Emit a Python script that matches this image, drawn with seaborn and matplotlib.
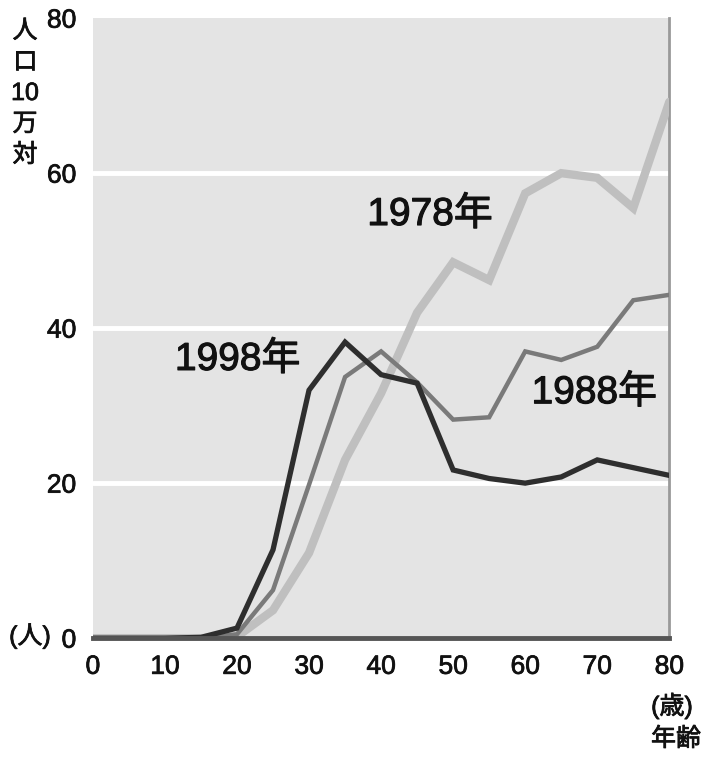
import matplotlib
matplotlib.use("Agg")
import matplotlib.pyplot as plt
import matplotlib.patheffects as pe
import seaborn as sns
import pandas as pd

ages = [0, 5, 10, 15, 20, 25, 30, 35, 40, 45, 50, 55, 60, 65, 70, 75, 80]
rate_1978 = [0, 0, 0, 0, 0.2, 3.6, 11.0, 23.0, 31.6, 42.0, 48.5, 46.2, 57.4, 60.0, 59.4, 55.5, 69.2]
rate_1988 = [0, 0, 0, 0, 0.5, 6.2, 19.8, 33.7, 37.0, 33.0, 28.2, 28.5, 37.0, 35.9, 37.6, 43.6, 44.3]
rate_1998 = [0, 0, 0, 0.1, 1.3, 11.4, 32.0, 38.2, 34.0, 32.9, 21.7, 20.6, 20.0, 20.8, 23.0, 22.0, 21.0]
series_names = ["1978年", "1988年", "1998年"]
x_ticks = [0, 10, 20, 30, 40, 50, 60, 70, 80]
y_ticks = [0, 20, 40, 60, 80]

df = pd.concat([
    pd.DataFrame({"age": ages, "rate": vals, "year": name})
    for name, vals in zip(series_names, [rate_1978, rate_1988, rate_1998])
])

sns.set_style("white")
plt.rcParams["font.family"] = ["Liberation Sans", "Noto Sans CJK JP", "DejaVu Sans"]

thick = [pe.withStroke(linewidth=0.55, foreground="#111111")]

fig = plt.figure(figsize=(7.09, 7.57), dpi=100)
ax = fig.add_axes([0.131, 0.157, 0.813, 0.819])
ax.set_facecolor("#e4e4e4")

palette = {"1978年": "#bfbfbf", "1988年": "#7a7a7a", "1998年": "#2e2e2e"}
widths = {"1978年": 6.0, "1988年": 3.2, "1998年": 3.8}
for name in series_names:
    sns.lineplot(data=df[df["year"] == name], x="age", y="rate", color=palette[name],
                 linewidth=widths[name], ax=ax, legend=False, zorder=3,
                 solid_joinstyle="miter")

for y in [20, 40, 60]:
    ax.axhline(y, color="white", linewidth=3.5, zorder=1)

ax.set_xlim(0, 80)
ax.set_ylim(0, 80)
ax.set_xticks(x_ticks)
ax.set_yticks(y_ticks)
ax.set_xlabel("")
ax.set_ylabel("")
ax.tick_params(axis="x", direction="in", length=10, width=2, color="#444444",
               labelsize=19, pad=12, labelcolor="#111111")
ax.tick_params(axis="y", length=0, labelsize=19, pad=12, labelcolor="#111111")
for lab in ax.get_xticklabels() + ax.get_yticklabels():
    lab.set_path_effects(thick)
ax.grid(False)

for s in ["top", "left"]:
    ax.spines[s].set_visible(False)
ax.spines["bottom"].set_color("#555555")
ax.spines["bottom"].set_linewidth(3.5)
ax.spines["bottom"].set_zorder(4)
ax.spines["right"].set_color("#999999")
ax.spines["right"].set_linewidth(2)

for txt, xx, yy in [("1978年", 46.8, 54.6), ("1998年", 20.1, 35.9), ("1988年", 69.6, 31.6)]:
    ax.text(xx, yy, txt, fontsize=28, ha="center", va="center", color="#111111",
            zorder=5, path_effects=[pe.withStroke(linewidth=0.8, foreground="#111111")])

for i, ch in enumerate(["人", "口", "10", "万", "対"]):
    fig.text(25 / 709, 1 - (31 + i * 31) / 757, ch, fontsize=18, ha="center", va="center",
             color="#111111", path_effects=thick)
fig.text(30 / 709, 1 - 636 / 757, "(人)", fontsize=18, ha="center", va="center",
         color="#111111", path_effects=thick)
fig.text(672 / 709, 1 - 706 / 757, "(歳)", fontsize=18, ha="center", va="center",
         color="#111111", path_effects=thick)
fig.text(676 / 709, 1 - 739 / 757, "年齢", fontsize=18, ha="center", va="center",
         color="#111111", path_effects=thick)

fig.savefig("out.png", dpi=100)
